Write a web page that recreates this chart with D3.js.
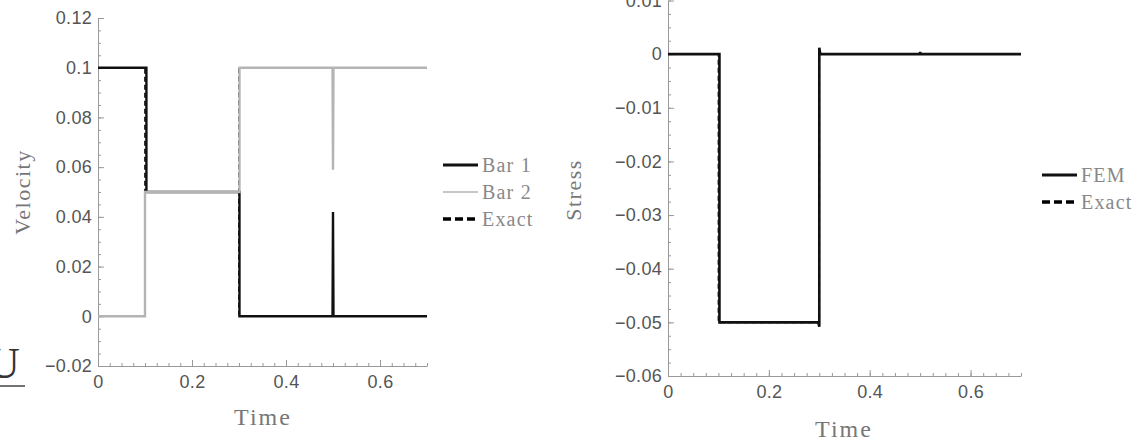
<!DOCTYPE html>
<html>
<head>
<meta charset="utf-8">
<script src="https://cdn.jsdelivr.net/npm/d3@7"></script>
<style>
  body { margin: 0; background: #fff; }
  svg { display: block; }
  .tick text { font-family: "Liberation Sans", Arial, sans-serif; font-size: 18px; fill: #555; letter-spacing: 0.3px; }
  .lbl { font-family: "Liberation Serif", "Times New Roman", serif; fill: #777; }
</style>
</head>
<body>
<script>
// ---- data ----
var timeTicks = [0, 0.2, 0.4, 0.6];
var timeTickLabels = ["0", "0.2", "0.4", "0.6"];
var velTicks = [-0.02, 0, 0.02, 0.04, 0.06, 0.08, 0.1, 0.12];
var velTickLabels = ["\u22120.02", "0", "0.02", "0.04", "0.06", "0.08", "0.1", "0.12"];
var stressTicks = [-0.06, -0.05, -0.04, -0.03, -0.02, -0.01, 0, 0.01];
var stressTickLabels = ["\u22120.06", "\u22120.05", "\u22120.04", "\u22120.03", "\u22120.02", "\u22120.01", "0", "0.01"];

var bar1Time = [0, 0.103, 0.103, 0.301, 0.301, 0.499, 0.5, 0.501, 0.7];
var bar1Vel  = [0.1, 0.1, 0.05, 0.05, 0, 0, 0.042, 0, 0];
var bar2Time = [0, 0.1, 0.1, 0.301, 0.301, 0.499, 0.5, 0.501, 0.7];
var bar2Vel  = [0, 0, 0.05, 0.05, 0.1, 0.1, 0.059, 0.1, 0.1];
var exactVelTime = [0, 0.1, 0.1, 0.3, 0.3, 0.7];
var exact1Vel = [0.1, 0.1, 0.05, 0.05, 0, 0];
var exact2Vel = [0, 0, 0.05, 0.05, 0.1, 0.1];

var femTime   = [0, 0.102, 0.102, 0.298, 0.3, 0.3, 0.302, 0.499, 0.5, 0.501, 0.7];
var femStress = [0, 0, -0.05, -0.05, -0.0508, 0.0012, 0, 0, 0.0004, 0, 0];
var exactStressTime = [0, 0.1, 0.1, 0.3, 0.3, 0.7];
var exactStress = [0, 0, -0.05, -0.05, 0, 0];

var velLegend = ["Bar 1", "Bar 2", "Exact"];
var stressLegend = ["FEM", "Exact"];

// ---- drawing ----
var svg = d3.select("body").append("svg")
  .attr("width", 1135)
  .attr("height", 443);

var axisColor = "#999";

function zip(ts, vs) { return ts.map(function (t, i) { return [t, vs[i]]; }); }

function drawPanel(opt) {
  var x = d3.scaleLinear().domain([0, 0.7]).range(opt.xr);
  var y = d3.scaleLinear().domain(opt.yd).range(opt.yr);
  var g = svg.append("g");

  // minor ticks
  g.append("g").attr("transform", "translate(0," + opt.yr[0] + ")")
    .call(d3.axisBottom(x).tickValues(d3.range(0, 0.7001, 0.025)).tickSize(-3).tickFormat(""))
    .call(function (s) { s.select(".domain").remove(); s.selectAll("line").attr("stroke", axisColor); });
  g.append("g").attr("transform", "translate(" + opt.xr[0] + ",0)")
    .call(d3.axisLeft(y).tickValues(d3.range(opt.yd[0], opt.yd[1] + 1e-9, opt.minor)).tickSize(-3).tickFormat(""))
    .call(function (s) { s.select(".domain").remove(); s.selectAll("line").attr("stroke", axisColor); });

  // major axes
  g.append("g").attr("transform", "translate(0," + opt.yr[0] + ")")
    .call(d3.axisBottom(x).tickValues(timeTicks).tickSize(-6).tickSizeOuter(0).tickPadding(9)
      .tickFormat(function (d, i) { return timeTickLabels[i]; }))
    .call(function (s) { s.select(".domain").attr("stroke", axisColor); s.selectAll("line").attr("stroke", axisColor); });
  g.append("g").attr("transform", "translate(" + opt.xr[0] + ",0)")
    .call(d3.axisLeft(y).tickValues(opt.yTicks).tickSize(-6).tickSizeOuter(0).tickPadding(6)
      .tickFormat(function (d, i) { return opt.yLabels[i]; }))
    .call(function (s) { s.select(".domain").attr("stroke", axisColor); s.selectAll("line").attr("stroke", axisColor); });

  var line = d3.line().x(function (d) { return x(d[0]); }).y(function (d) { return y(d[1]); });

  opt.series.forEach(function (s) {
    g.append("path")
      .attr("d", line(s.pts))
      .attr("fill", "none")
      .attr("stroke", s.color)
      .attr("stroke-width", s.width)
      .attr("stroke-dasharray", s.dash || null)
      .attr("stroke-linejoin", "miter");
  });

  // axis labels
  g.append("text").attr("class", "lbl")
    .attr("x", opt.xLabel[0]).attr("y", opt.xLabel[1])
    .attr("text-anchor", "middle").style("font-size", "24px").style("letter-spacing", "2px")
    .text("Time");
  g.append("text").attr("class", "lbl")
    .attr("transform", "translate(" + opt.yLabel[0] + "," + opt.yLabel[1] + ") rotate(-90)")
    .attr("text-anchor", "middle").style("font-size", "22px").style("letter-spacing", "1.5px")
    .text(opt.yTitle);

  // legend
  var leg = g.append("g").attr("transform", "translate(" + opt.legend[0] + "," + opt.legend[1] + ")");
  opt.legendItems.forEach(function (s, i) {
    leg.append("line")
      .attr("x1", 0).attr("x2", 35).attr("y1", i * 27).attr("y2", i * 27)
      .attr("stroke", s.color).attr("stroke-width", s.legendWidth)
      .attr("stroke-dasharray", s.dash ? "8,4" : null);
    leg.append("text").attr("class", "lbl")
      .attr("x", 39).attr("y", i * 27).attr("dy", "0.35em")
      .style("font-size", "20px").style("letter-spacing", "1.2px").style("fill", "#888")
      .text(s.name);
  });
}

var exactL = { name: velLegend[2], color: "#000", width: 1.6, dash: "5,3", legendWidth: 3.5 };
var bar1 = { name: velLegend[0], color: "#111", width: 2.4, legendWidth: 3, pts: zip(bar1Time, bar1Vel) };
var bar2 = { name: velLegend[1], color: "#b4b4b4", width: 2.4, legendWidth: 1.4, pts: zip(bar2Time, bar2Vel) };

drawPanel({
  xr: [98, 427], yd: [-0.02, 0.12], yr: [366, 18], minor: 0.005,
  yTicks: velTicks, yLabels: velTickLabels, yTitle: "Velocity",
  xLabel: [263, 425], yLabel: [30, 192], legend: [443, 165],
  series: [
    { color: "#000", width: 1.6, dash: "5,3", pts: zip(exactVelTime, exact1Vel) },
    { color: "#000", width: 1.6, dash: "5,3", pts: zip(exactVelTime, exact2Vel) },
    bar1, bar2
  ],
  legendItems: [bar1, bar2, exactL]
});

var fem = { name: stressLegend[0], color: "#111", width: 2.6, legendWidth: 3, pts: zip(femTime, femStress) };
var exactR = { name: stressLegend[1], color: "#000", width: 1.6, dash: "5,3", legendWidth: 3.5, pts: zip(exactStressTime, exactStress) };

drawPanel({
  xr: [668, 1021], yd: [-0.06, 0.01], yr: [376, 0.5], minor: 0.0025,
  yTicks: stressTicks, yLabels: stressTickLabels, yTitle: "Stress",
  xLabel: [844, 437], yLabel: [581, 190], legend: [1042, 175],
  series: [exactR, fem],
  legendItems: [fem, exactR]
});

// cropped glyph from the neighbouring figure at the left edge
svg.append("text").attr("class", "lbl")
  .attr("x", -12).attr("y", 378)
  .style("font-size", "44px").style("fill", "#333")
  .text("U");
svg.append("line")
  .attr("x1", 0).attr("x2", 25).attr("y1", 386).attr("y2", 386)
  .attr("stroke", "#444").attr("stroke-width", 1.5);
</script>
</body>
</html>
